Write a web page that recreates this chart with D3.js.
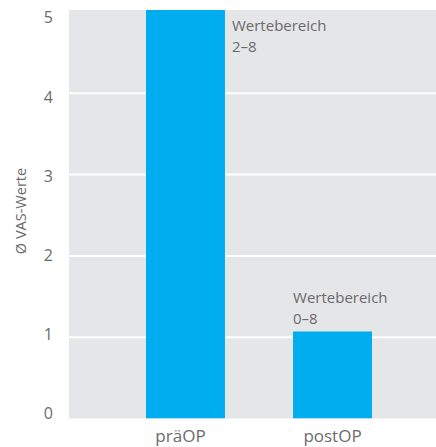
<!DOCTYPE html>
<html>
<head>
<meta charset="utf-8">
<script src="https://cdn.jsdelivr.net/npm/d3@7"></script>
<style>
  body { margin: 0; background: #fff; }
  text { font-family: "Open Sans", "Noto Sans", sans-serif; fill: #6b6b6b; }
</style>
</head>
<body>
<div id="chart"></div>
<script>
// categories and mean VAS values
var categories = ["präOP", "postOP"];
var values = [5.3, 1.07];
// range notes above each bar
var rangeNotes = [["Wertebereich", "2–8"], ["Wertebereich", "0–8"]];
var yTicks = [0, 1, 2, 3, 4, 5];

var WIDTH = 436, HEIGHT = 447;
var plotLeft = 69, plotRight = 436, plotTop = 10, plotBottom = 418.5;

var svg = d3.select("#chart").append("svg")
  .attr("width", WIDTH)
  .attr("height", HEIGHT);

var y = d3.scaleLinear().domain([0, 5]).range([plotBottom, 12]);
// tick labels sit a bit off the gridlines in the original
var yLab = d3.scaleLinear().domain([0, 5]).range([413, 17.5]);

var x = d3.scaleBand()
  .domain(categories)
  .range([72.5, 445.5])
  .paddingInner(0.463)
  .paddingOuter(0.5);

// grey plot background
svg.append("rect")
  .attr("x", plotLeft)
  .attr("y", plotTop)
  .attr("width", plotRight - plotLeft)
  .attr("height", plotBottom - plotTop)
  .attr("fill", "#e5e6e8");

// white gridlines
svg.selectAll("line.grid")
  .data(yTicks.filter(function(d){ return d > 0 && d < 5; }))
  .enter()
  .append("line")
  .attr("class", "grid")
  .attr("x1", plotLeft)
  .attr("x2", plotRight)
  .attr("y1", d => y(d))
  .attr("y2", d => y(d))
  .attr("stroke", "#fff")
  .attr("stroke-width", 2);

// clip so the first bar stops at top of plot
svg.append("clipPath").attr("id", "plotclip")
  .append("rect")
  .attr("x", plotLeft).attr("y", plotTop)
  .attr("width", plotRight - plotLeft)
  .attr("height", plotBottom - plotTop);

svg.append("g").attr("clip-path", "url(#plotclip)")
  .selectAll("rect")
  .data(values)
  .enter()
  .append("rect")
  .attr("x", (d, i) => x(categories[i]))
  .attr("y", d => y(d))
  .attr("width", x.bandwidth())
  .attr("height", d => plotBottom - y(d))
  .attr("fill", "#00adee");

// y axis
var yAxis = d3.axisLeft(yLab).tickValues(yTicks).tickSize(0).tickPadding(0).tickFormat(d3.format("d"));
var gy = svg.append("g").attr("transform", "translate(53,0)").call(yAxis);
gy.select(".domain").remove();
gy.selectAll("text").style("font-size", "16px").attr("dy", "0.34em");

// x axis labels
var xAxis = d3.axisBottom(x).tickSize(0).tickPadding(0);
var gx = svg.append("g").attr("transform", "translate(0,430)").call(xAxis);
gx.select(".domain").remove();
gx.selectAll("text").style("font-size", "17px").attr("dy", "0.71em")
  .attr("dx", (d, i) => i == 0 ? -5 : 0);

// y title
svg.append("text")
  .attr("transform", "translate(26,211) rotate(-90)")
  .attr("text-anchor", "middle")
  .style("font-size", "14.5px")
  .text("Ø VAS-Werte");

// range notes
var notePos = [
  { x: x(categories[0]) + x.bandwidth() + 7, y: 31 },
  { x: x(categories[1]), y: 303 }
];
rangeNotes.forEach(function(lines, i){
  var t = svg.append("text")
    .attr("x", notePos[i].x)
    .attr("y", notePos[i].y)
    .style("font-size", "15px");
  lines.forEach(function(s, j){
    t.append("tspan")
      .attr("x", notePos[i].x)
      .attr("dy", j == 0 ? 0 : 21)
      .text(s);
  });
});
</script>
</body>
</html>
